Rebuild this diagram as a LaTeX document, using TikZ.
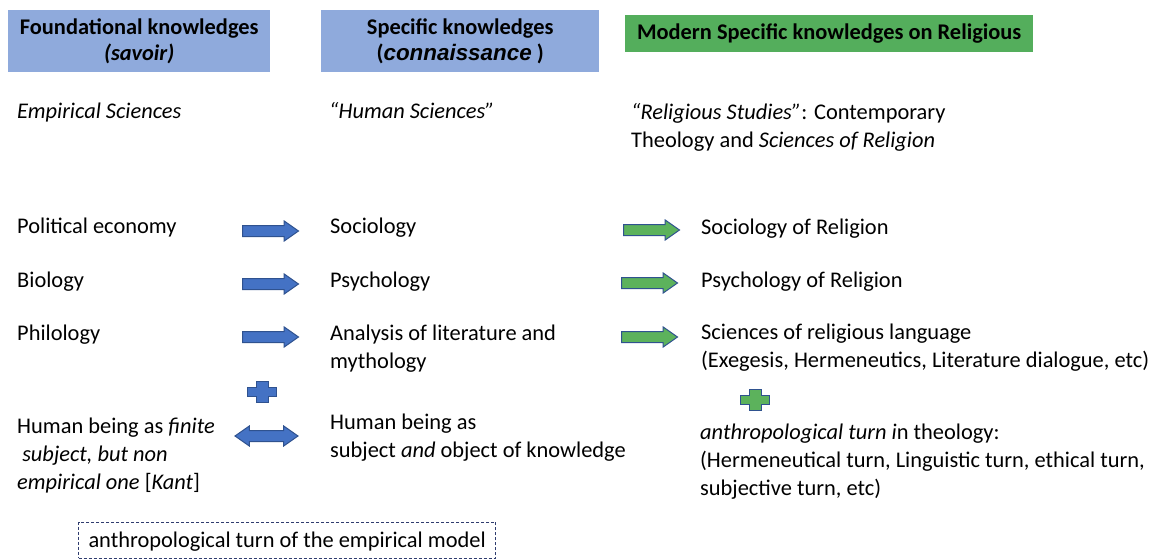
\documentclass[tikz,border=0pt]{standalone}
\usepackage{fontspec}
\setmainfont{Carlito}
\newfontfamily\arialfont{Liberation Sans}
\usetikzlibrary{shapes.arrows}
\definecolor{headblue}{RGB}{143,170,220}
\definecolor{headgreen}{RGB}{84,174,92}
\definecolor{arrowblue}{RGB}{68,114,196}
\definecolor{arrowgreen}{RGB}{92,178,92}
\definecolor{arrowline}{RGB}{47,82,143}
\definecolor{boxline}{RGB}{47,60,110}
\tikzset{
  every node/.style={font=\fontsize{22.4}{28}\selectfont},
  txt/.style={anchor=base west, align=left, inner sep=0pt},
  headbox/.style={anchor=north west, inner sep=0pt, align=center,
    font=\fontsize{22.4}{26}\selectfont\bfseries},
  fatarrow/.style={single arrow, anchor=tail, draw=arrowline, line width=1pt,
    minimum height=56pt, inner xsep=0pt, inner ysep=5pt,
    single arrow head extend=4.5pt, single arrow tip angle=70},
  fatdouble/.style={double arrow, draw=arrowline, line width=1pt,
    minimum height=63pt, inner xsep=0pt, inner ysep=5pt,
    double arrow head extend=4.5pt, double arrow tip angle=70},
  plussign/.pic={
    \draw[pic actions] (-14.5,-4.5) -- (-6,-4.5) -- (-6,-10.5) -- (6,-10.5) -- (6,-4.5)
      -- (14.5,-4.5) -- (14.5,4.5) -- (6,4.5) -- (6,10.5) -- (-6,10.5) -- (-6,4.5)
      -- (-14.5,4.5) -- cycle;
  }
}
\begin{document}
\begin{tikzpicture}[x=1pt, y=-1pt]
  \useasboundingbox (0,0) rectangle (1158,559);
  % headers
  \node [headbox, fill=headblue, minimum width=262pt, minimum height=62pt] (foundhead) at (8,10)
    {Foundational knowledges\\\textit{(savoir)}};
  \node [headbox, fill=headblue, minimum width=278pt, minimum height=62pt] (spechead) at (321,10)
    {Specific knowledges\\({\arialfont\itshape connaissance} )};
  \node [headbox, fill=headgreen, minimum width=408pt, minimum height=37pt] (relighead) at (625,15)
    {Modern Specific knowledges on Religious};
  % first column (anchors at the last line)
  \node [txt] (empirical) at (17,119) {\textit{Empirical Sciences}};
  \node [txt] (economy) at (17,233) {Political economy};
  \node [txt] (biology) at (17,287) {Biology};
  \node [txt] (philology) at (17,340) {Philology};
  \node [txt] (finite) at (17,489) {Human being as \textit{finite}\\\textit{\ subject, but non}\\\textit{empirical one} [\textit{Kant}]};
  % second column
  \node [txt] (humansci) at (329,119) {\textit{``Human Sciences''}};
  \node [txt] (sociology) at (330,233) {Sociology};
  \node [txt] (psychology) at (330,287) {Psychology};
  \node [txt] (analysis) at (330,368) {Analysis of literature and\\mythology};
  \node [txt] (subject) at (330,457) {Human being as\\subject \textit{and} object of knowledge};
  % third column
  \node [txt] (studies) at (631,147) {{\itshape ``Religious Studies''}: Contemporary\\Theology and \textit{Sciences of Religion}};
  \node [txt] (socrel) at (701,234) {Sociology of Religion};
  \node [txt] (psyrel) at (701,287) {Psychology of Religion};
  \node [txt] (language) at (701,367) {Sciences of religious language\\(Exegesis, Hermeneutics, Literature dialogue, etc)};
  \node [txt] (theology) at (700,495) {{\itshape anthropological turn i}n theology:\\(Hermeneutical turn, Linguistic turn, ethical turn,\\subjective turn, etc)};
  % fat arrows
  \node [fatarrow, fill=arrowblue] (ecoarrow) at (242,231) {};
  \node [fatarrow, fill=arrowblue] (bioarrow) at (242,284) {};
  \node [fatarrow, fill=arrowblue] (philarrow) at (242,337) {};
  \node [fatdouble, fill=arrowblue] (humanarrow) at (266.5,436) {};
  \node [fatarrow, fill=arrowgreen] (socarrow) at (623,230) {};
  \node [fatarrow, fill=arrowgreen] (psyarrow) at (621,283) {};
  \node [fatarrow, fill=arrowgreen] (langarrow) at (621,337) {};
  \pic [draw=arrowline, fill=arrowblue, line width=1pt] at (262,392) {plussign};
  \pic [draw=arrowline, fill=arrowgreen, line width=1pt] at (755,400) {plussign};
  % dashed box
  \node [txt, draw=boxline, line width=1pt, dash pattern=on 3pt off 2pt,
    inner xsep=10pt, inner ysep=7pt, text height=18pt, text depth=4pt] (turnbox) at (78,547)
    {anthropological turn of the empirical model};
\end{tikzpicture}
\end{document}
